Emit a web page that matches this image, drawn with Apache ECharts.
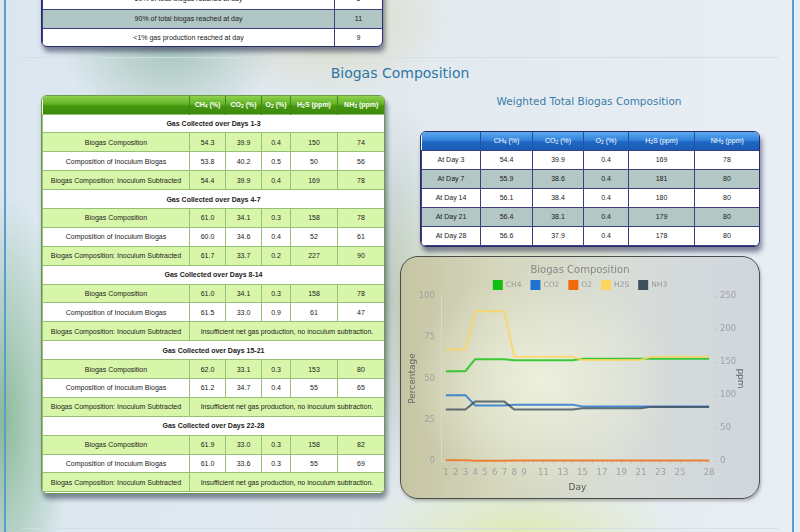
<!DOCTYPE html>
<html>
<head>
<meta charset="utf-8">
<script src="https://cdn.jsdelivr.net/npm/echarts@6/dist/echarts.min.js"></script>
<style>
html,body{margin:0;padding:0;width:800px;height:532px;overflow:hidden;}
body{
  position:relative;
  font-family:"Liberation Sans",Arial,sans-serif;
  background:
    radial-gradient(ellipse 70px 230px at 0px 420px, rgba(110,170,120,0.75), rgba(110,170,120,0) 100%),
    radial-gradient(ellipse 110px 90px at 170px 40px, rgba(140,180,160,0.7), rgba(140,180,160,0) 100%),
    radial-gradient(ellipse 120px 80px at 330px 20px, rgba(215,210,170,0.7), rgba(215,210,170,0) 100%),
    radial-gradient(ellipse 170px 160px at 520px 300px, rgba(225,228,180,0.8), rgba(225,228,180,0) 100%),
    radial-gradient(ellipse 160px 60px at 520px 530px, rgba(222,234,178,0.9), rgba(222,234,178,0) 100%),
    radial-gradient(ellipse 60px 200px at 392px 300px, rgba(150,175,160,0.6), rgba(150,175,160,0) 100%),
    linear-gradient(90deg,#dbe7f0 0%,#e3eaef 50%,#e8eef4 100%);
}
.frame{position:absolute;top:0;bottom:0;left:4px;right:6px;border-left:2px solid #5a9bd2;border-right:2px solid #5a9bd2;}
.sep{position:absolute;left:22px;width:756px;height:1px;background:rgba(210,222,228,0.9);}
.h1{position:absolute;left:0;width:800px;top:65px;text-align:center;font-family:"DejaVu Sans",Verdana,sans-serif;font-size:14px;color:#2e77a6;}
.h2{position:absolute;left:420px;width:338px;top:95px;text-align:center;font-family:"DejaVu Sans",Verdana,sans-serif;font-size:10.5px;color:#3b7ca8;}
.tw{position:absolute;overflow:hidden;border-radius:6px;}
table{border-collapse:collapse;width:100%;table-layout:fixed;font-size:7px;color:#1a1a1a;}
td,th{text-align:center;padding:0;overflow:hidden;white-space:nowrap;color:#1a1a1a;}
sub{font-size:5px;vertical-align:-1px;}
/* green table */
#gt{left:41px;top:95px;width:342px;height:397px;border:1px solid #6c9a4a;box-shadow:2px 5px 5px rgba(40,55,80,0.55);background:#fff;}
#gt tr{height:18.9px;}
#gt tr.hd{height:18px;}
#gt th{color:#fff;font-weight:bold;background:linear-gradient(#8fd14f 0%,#62b226 45%,#45960f 55%,#3b8a0b 100%);border-left:1px solid #3f8a16;}
#gt td{border:1px solid #97bf78;}
#gt tr.grp td{background:#fff;font-weight:bold;}
#gt tr.g td{background:#d8f6aa;}
#gt tr.w td{background:#fff;}
/* blue table */
#bt{left:420px;top:131px;width:338px;height:114px;border:1px solid #2b2b6e;box-shadow:2px 5px 5px rgba(40,45,80,0.55);background:#fff;}
#bt tr{height:19px;}
#bt tr.hd{height:18px;}
#bt th{color:#fff;font-weight:normal;background:linear-gradient(#5ea8ef 0%,#3384dc 45%,#1f66c2 55%,#1a5cb6 100%);border-left:1px solid #2a4f9a;}
#bt td{border:1px solid #3d3f7e;}
#bt tr.t td{background:#b3c8c5;}
/* partial top table */
#tt{left:41px;top:-14px;width:340px;height:59px;border:1px solid #2b2b6e;box-shadow:2px 5px 5px rgba(40,45,80,0.55);background:#fff;}
#tt td{border:1px solid #3d3f7e;}
#tt tr.t td{background:#b0c6c4;}
#chartBox{position:absolute;left:400px;top:256px;width:358px;height:241px;border:1px solid #4b4b4b;border-radius:18px;overflow:hidden;
  background:
    radial-gradient(ellipse 130px 110px at 140px 125px, rgba(238,241,222,0.95), rgba(238,241,222,0) 100%),
    linear-gradient(90deg,#c6c5a3 0%,#d5d7bd 28%,#d8ddd6 60%,#cfd6df 100%);
  box-shadow:1px 2px 3px rgba(60,60,60,0.35);}
#chart{width:358px;height:241px;}
</style>
</head>
<body>
<div class="frame"></div>
<div class="tw" id="tt"><table>
  <colgroup><col style="width:292px"><col style="width:48px"></colgroup>
  <tr style="height:22px"><td>50% of total biogas reached at day</td><td>5</td></tr>
  <tr class="t" style="height:18.5px"><td>90% of total biogas reached at day</td><td>11</td></tr>
  <tr style="height:18.5px"><td>&lt;1% gas production reached at day</td><td>9</td></tr>
</table></div>
<div class="sep" style="top:57px"></div>
<div class="sep" style="top:528px"></div>
<div class="h1">Biogas Composition</div>
<div class="h2">Weighted Total Biogas Composition</div>
<div class="tw" id="gt"><table id="gtab"></table></div>
<div class="tw" id="bt"><table id="btab"></table></div>
<div id="chartBox"><div id="chart"></div></div>
<script>
// table data
var colHeads = ['CH<sub>4</sub> (%)', 'CO<sub>2</sub> (%)', 'O<sub>2</sub> (%)', 'H<sub>2</sub>S (ppm)', 'NH<sub>3</sub> (ppm)'];
var periods = ['Gas Collected over Days 1-3', 'Gas Collected over Days 4-7', 'Gas Collected over Days 8-14', 'Gas Collected over Days 15-21', 'Gas Collected over Days 22-28'];
var biogasRows = [[54.3, 39.9, 0.4, 150, 74], [61.0, 34.1, 0.3, 158, 78], [61.0, 34.1, 0.3, 158, 78], [62.0, 33.1, 0.3, 153, 80], [61.9, 33.0, 0.3, 158, 82]];
var inoculumRows = [[53.8, 40.2, 0.5, 50, 56], [60.0, 34.6, 0.4, 52, 61], [61.5, 33.0, 0.9, 61, 47], [61.2, 34.7, 0.4, 55, 65], [61.0, 33.6, 0.3, 55, 69]];
var subtractedRows = [[54.4, 39.9, 0.4, 169, 78], [61.7, 33.7, 0.2, 227, 90], null, null, null];
var weightedDays = ['At Day 3', 'At Day 7', 'At Day 14', 'At Day 21', 'At Day 28'];
var weightedRows = [[54.4, 39.9, 0.4, 169, 78], [55.9, 38.6, 0.4, 181, 80], [56.1, 38.4, 0.4, 180, 80], [56.4, 38.1, 0.4, 179, 80], [56.6, 37.9, 0.4, 178, 80]];

// chart data (one value per day)
var days = ['1','2','3','4','5','6','7','8','9','10','11','12','13','14','15','16','17','18','19','20','21','22','23','24','25','26','27','28'];
var dayLabels = ['1','2','3','4','5','6','7','8','9','11','13','15','17','19','21','23','25','28'];
var ch4 = [54.4,54.4,54.4,61.7,61.7,61.7,61.7,61.0,61.0,61.0,61.0,61.0,61.0,61.0,62.0,62.0,62.0,62.0,62.0,62.0,62.0,61.9,61.9,61.9,61.9,61.9,61.9,61.9];
var co2 = [39.9,39.9,39.9,33.7,33.7,33.7,33.7,34.1,34.1,34.1,34.1,34.1,34.1,34.1,33.1,33.1,33.1,33.1,33.1,33.1,33.1,33.0,33.0,33.0,33.0,33.0,33.0,33.0];
var o2 = [0.4,0.4,0.4,0.2,0.2,0.2,0.2,0.3,0.3,0.3,0.3,0.3,0.3,0.3,0.3,0.3,0.3,0.3,0.3,0.3,0.3,0.3,0.3,0.3,0.3,0.3,0.3,0.3];
var h2s = [169,169,169,227,227,227,227,158,158,158,158,158,158,158,153,153,153,153,153,153,153,158,158,158,158,158,158,158];
var nh3 = [78,78,78,90,90,90,90,78,78,78,78,78,78,78,80,80,80,80,80,80,80,82,82,82,82,82,82,82];

function fmtRow(r){
    var s='';
    for(var i=0;i<r.length;i++){
        s+='<td>'+(i<3?r[i].toFixed(1):r[i])+'</td>';
    }
    return s;
}
function buildTables(){
    var h='<colgroup><col style="width:147px"><col style="width:36px"><col style="width:36px"><col style="width:29px"><col style="width:47px"><col style="width:47px"></colgroup>';
    h+='<tr class="hd"><th style="border-left:none"></th>';
    for(var i=0;i<colHeads.length;i++) h+='<th>'+colHeads[i]+'</th>';
    h+='</tr>';
    for(var p=0;p<periods.length;p++){
        h+='<tr class="grp"><td colspan="6">'+periods[p]+'</td></tr>';
        h+='<tr class="g"><td>Biogas Composition</td>'+fmtRow(biogasRows[p])+'</tr>';
        h+='<tr class="w"><td>Composition of Inoculum Biogas</td>'+fmtRow(inoculumRows[p])+'</tr>';
        if(subtractedRows[p]){
            h+='<tr class="g"><td>Biogas Composition: Inoculum Subtracted</td>'+fmtRow(subtractedRows[p])+'</tr>';
        }else{
            h+='<tr class="g"><td>Biogas Composition: Inoculum Subtracted</td><td colspan="5">Insufficient net gas production, no inoculum subtraction.</td></tr>';
        }
    }
    document.getElementById('gtab').innerHTML=h;

    var b='<colgroup><col style="width:59px"><col style="width:52px"><col style="width:51px"><col style="width:45px"><col style="width:66px"><col style="width:65px"></colgroup>';
    b+='<tr class="hd"><th style="border-left:none"></th>';
    for(var i=0;i<colHeads.length;i++) b+='<th>'+colHeads[i]+'</th>';
    b+='</tr>';
    for(var d=0;d<weightedDays.length;d++){
        b+='<tr'+(d%2?' class="t"':'')+'><td>'+weightedDays[d]+'</td>'+fmtRow(weightedRows[d])+'</tr>';
    }
    document.getElementById('btab').innerHTML=b;
}
buildTables();

function lineSeries(name,data,color,axis){
    return {
        name:name,
        type:'line',
        yAxisIndex:axis,
        data:data,
        showSymbol:false,
        symbol:'none',
        lineStyle:{color:color,width:2,opacity:0.8},
        itemStyle:{color:color}
    }
}

var myChart=echarts.init(document.getElementById('chart'));
var option={
    backgroundColor:'transparent',
    textStyle:{fontFamily:'DejaVu Sans'},
    title:{
        text:'Biogas Composition',
        left:'center',
        top:3,
        textStyle:{color:'#888',fontSize:10,fontWeight:'normal',fontFamily:'DejaVu Sans'}
    },
    legend:{
        top:18,
        left:'center',
        itemWidth:10,
        itemHeight:10,
        itemGap:9,
        icon:'rect',
        textStyle:{color:'#999',fontSize:7.5,fontFamily:'DejaVu Sans',padding:[0,0,0,-2]},
        data:['CH4','CO2','O2','H2S','NH3']
    },
    grid:{left:40,right:45,top:39,bottom:37,outerBoundsMode:'none',containLabel:false},
    xAxis:{
        type:'category',
        data:days,
        name:'Day',
        nameLocation:'middle',
        nameGap:22,
        nameMoveOverlap:false,
        nameTextStyle:{color:'#555',fontSize:9},
        axisLine:{lineStyle:{color:'#d6d8d0'}},
        axisTick:{show:true,alignWithLabel:true,length:3,lineStyle:{color:'#c8cac4'},interval:0},
        axisLabel:{
            color:'#a0a0a0',fontSize:8.5,margin:7,
            interval:function(idx,val){return dayLabels.indexOf(val)>=0;}
        },
        splitLine:{show:false}
    },
    yAxis:[
        {
            type:'value',min:0,max:100,interval:25,
            name:'Percentage',nameLocation:'middle',nameGap:24,nameMoveOverlap:false,
            nameTextStyle:{color:'#666',fontSize:9},
            axisLine:{show:true,lineStyle:{color:'#d8dad2'}},
            axisTick:{show:false},
            axisLabel:{color:'#a0a0a0',fontSize:8.5,margin:6},
            splitLine:{show:false}
        },
        {
            type:'value',min:0,max:250,interval:50,position:'right',
            name:'ppm',nameLocation:'middle',nameGap:22,nameRotate:-90,nameMoveOverlap:false,
            nameTextStyle:{color:'#666',fontSize:9},
            axisLine:{show:true,lineStyle:{color:'#d8dad2'}},
            axisTick:{show:true,length:3,lineStyle:{color:'#c8cac4'}},
            axisLabel:{color:'#a0a0a0',fontSize:8.5,margin:6},
            splitLine:{show:false}
        }
    ],
    series:[
        lineSeries('CH4',ch4,'#10c010',0),
        lineSeries('CO2',co2,'#1f72d0',0),
        lineSeries('O2',o2,'#f06a0c',0),
        lineSeries('H2S',h2s,'#fdd55e',1),
        lineSeries('NH3',nh3,'#3e4f5c',1)
    ]
};
myChart.setOption(option);
</script>
</body>
</html>
